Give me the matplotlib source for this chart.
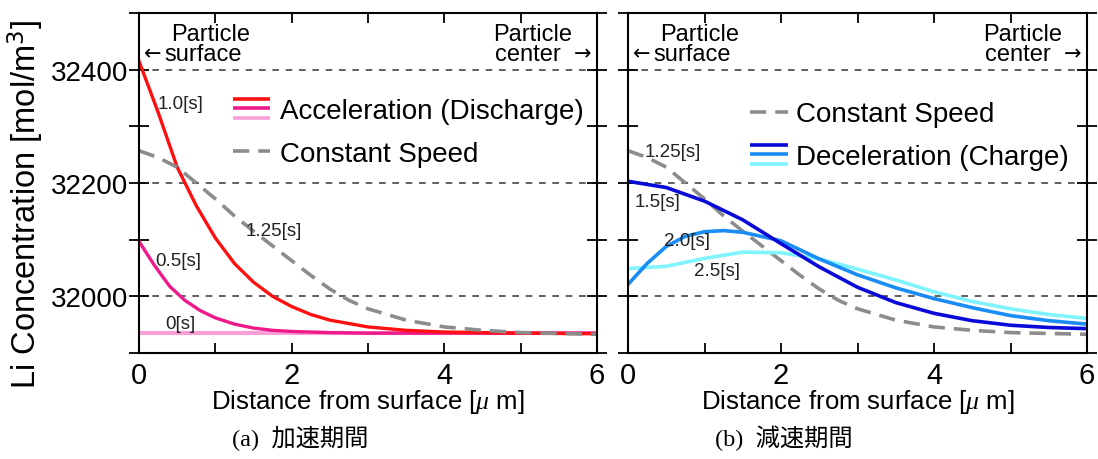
import matplotlib
matplotlib.use("Agg")
import matplotlib.pyplot as plt
from matplotlib.legend_handler import HandlerBase
from matplotlib.lines import Line2D
from matplotlib.ticker import MultipleLocator

plt.rcParams['font.family'] = ['Liberation Sans', 'DejaVu Sans']
plt.rcParams['mathtext.fontset'] = 'custom'
plt.rcParams['mathtext.it'] = 'Liberation Serif:italic'

# ---- data ----
# (a) acceleration period
x_acc_10 = [0, 0.25, 0.5, 0.75, 1.0, 1.25, 1.5, 1.75, 2.0, 2.25, 2.5, 3.0, 3.5, 4.0, 5.0, 6.0]
c_acc_10 = [32415, 32325, 32228, 32160, 32103, 32058, 32025, 32000, 31982, 31968, 31958, 31946, 31940, 31937, 31935, 31934]

x_acc_05 = [0, 0.2, 0.4, 0.6, 0.8, 1.0, 1.25, 1.5, 1.75, 2.0, 2.5, 3.0, 6.0]
c_acc_05 = [32097, 32055, 32018, 31993, 31975, 31962, 31951, 31944, 31940, 31938, 31936, 31935, 31935]

x_acc_00 = [0, 6.0]
c_acc_00 = [31935, 31935]

# constant speed (1.25 s), same in both panels
x_const = [0, 0.25, 0.5, 0.75, 1.0, 1.25, 1.5, 1.75, 2.0, 2.25, 2.5, 2.75, 3.0, 3.5, 4.0, 4.5, 5.0, 6.0]
c_const = [32257, 32245, 32228, 32200, 32172, 32142, 32115, 32089, 32063, 32037, 32013, 31993, 31978, 31958, 31946, 31940, 31936, 31933]

# (b) deceleration period
x_dec_15 = [0, 0.5, 1.0, 1.5, 2.0, 2.5, 3.0, 3.5, 4.0, 4.5, 5.0, 5.5, 6.0]
c_dec_15 = [32203, 32192, 32168, 32135, 32093, 32052, 32016, 31989, 31970, 31957, 31949, 31945, 31943]

x_dec_20 = [0, 0.25, 0.5, 0.75, 1.0, 1.25, 1.5, 2.0, 2.5, 3.0, 3.5, 4.0, 4.5, 5.0, 5.5, 6.0]
c_dec_20 = [32021, 32058, 32088, 32106, 32114, 32116, 32113, 32098, 32066, 32038, 32015, 31996, 31980, 31966, 31957, 31951]

x_dec_25 = [0, 0.5, 1.0, 1.5, 2.0, 2.5, 3.0, 3.5, 4.0, 4.5, 5.0, 5.5, 6.0]
c_dec_25 = [32049, 32053, 32067, 32078, 32077, 32066, 32048, 32029, 32008, 31991, 31978, 31968, 31961]

xticks = [0, 2, 4, 6]
yticks = [32000, 32200, 32400]


class StackHandler(HandlerBase):
    # three coloured lines stacked on top of each other
    def create_artists(self, legend, orig_handle, xdescent, ydescent,
                       width, height, fontsize, trans):
        arts = []
        n = len(orig_handle)
        for i, h in enumerate(orig_handle):
            y = height / 2 + (n // 2 - i) * height * 0.5
            ln = Line2D([-xdescent, width - xdescent], [y, y],
                        color=h.get_color(), lw=2.6, solid_capstyle='butt')
            ln.set_transform(trans)
            arts.append(ln)
        return arts


fig = plt.figure(figsize=(10.98, 4.60), dpi=100)
ax1 = fig.add_axes([139 / 1098, 1 - 354 / 460, 458 / 1098, 340 / 460])
ax2 = fig.add_axes([628 / 1098, 1 - 354 / 460, 459 / 1098, 340 / 460])

dash_gray = dict(color='#8c8c8c', lw=2.6, dashes=(4.5, 2.5))
txt = dict(fontsize=13.5, color='#222222', ha='center', va='center')

for ax in (ax1, ax2):
    ax.set_xlim(0, 6)
    ax.set_ylim(31900, 32500)
    ax.set_xticks(xticks)
    ax.xaxis.set_minor_locator(MultipleLocator(1))
    ax.set_yticks(yticks)
    ax.yaxis.set_minor_locator(MultipleLocator(100))
    for yv in yticks:
        ax.axhline(yv, color='#444444', lw=1.2, dashes=(4, 4), zorder=0)
    ax.tick_params(axis='x', which='both', direction='in', top=True, length=7, width=1.3,
                   labelsize=21, pad=6)
    ax.tick_params(axis='y', which='both', direction='inout', right=True, length=14, width=1.3,
                   labelsize=20, pad=1)
    for s in ax.spines.values():
        s.set_linewidth(1.5)
    ax.set_xlabel('Distance from surface [$\\mathit{\\mu}$ m]', fontsize=18.5, labelpad=-2)
    ax.text(0.94, 32463, 'Particle', fontsize=17, ha='center', va='center')
    ax.text(0.06, 32429, '\u2190', fontsize=15, ha='left', va='center', family='DejaVu Sans')
    ax.text(0.33, 32427, 'surface', fontsize=17, ha='left', va='center')
    ax.text(5.16, 32463, 'Particle', fontsize=17, ha='center', va='center')
    ax.text(5.53, 32427, 'center', fontsize=17, ha='right', va='center')
    ax.text(5.92, 32429, '\u2192', fontsize=15, ha='right', va='center', family='DejaVu Sans')

ax2.tick_params(axis='y', which='both', labelleft=False)

# (a)
l00, = ax1.plot(x_acc_00, c_acc_00, color='#f7a1d8', lw=3.0)
l05, = ax1.plot(x_acc_05, c_acc_05, color='#ee1a8a', lw=2.4)
l10, = ax1.plot(x_acc_10, c_acc_10, color='#ff1010', lw=2.4)
lc1, = ax1.plot(x_const, c_const, **dash_gray)
ax1.text(0.54, 32340, '1.0[s]', **txt)
ax1.text(0.52, 32063, '0.5[s]', **txt)
ax1.text(0.54, 31952, '0[s]', **txt)
ax1.text(1.76, 32116, '1.25[s]', **txt)
ax1.legend([(l10, l05, l00), lc1], ['Acceleration (Discharge)', 'Constant Speed'],
           handler_map={tuple: StackHandler()}, loc='upper left',
           bbox_to_anchor=(0.205, 0.75), frameon=False, fontsize=20,
           handlelength=1.35, handletextpad=0.35, labelspacing=0.6,
           borderpad=0, borderaxespad=0)

# (b)
lc2, = ax2.plot(x_const, c_const, **dash_gray)
l25, = ax2.plot(x_dec_25, c_dec_25, color='#7ff4ff', lw=2.6)
l20, = ax2.plot(x_dec_20, c_dec_20, color='#1a8cf5', lw=2.6)
l15, = ax2.plot(x_dec_15, c_dec_15, color='#0a0ad8', lw=2.6)
ax2.text(0.59, 32255, '1.25[s]', **txt)
ax2.text(0.39, 32167, '1.5[s]', **txt)
ax2.text(0.77, 32098, '2.0[s]', **txt)
ax2.text(1.16, 32045, '2.5[s]', **txt)
ax2.legend([lc2, (l15, l20, l25)], ['Constant Speed', 'Deceleration (Charge)'],
           handler_map={tuple: StackHandler()}, loc='upper left',
           bbox_to_anchor=(0.266, 0.74), frameon=False, fontsize=20,
           handlelength=1.35, handletextpad=0.3, labelspacing=0.6,
           borderpad=0, borderaxespad=0)

fig.text(25 / 1098, 1 - 205 / 460, 'Li Concentration [mol/m$^3$]', rotation=90,
         fontsize=23.5, ha='center', va='center')

cap = dict(fontsize=17.5, ha='left', va='center', family=['Liberation Serif', 'Noto Sans CJK JP'])
fig.text(232 / 1098, 1 - 438 / 460, '(a)  加速期間', **cap)
fig.text(715 / 1098, 1 - 438 / 460, '(b)  減速期間', **cap)

fig.savefig('out.png', dpi=100)
